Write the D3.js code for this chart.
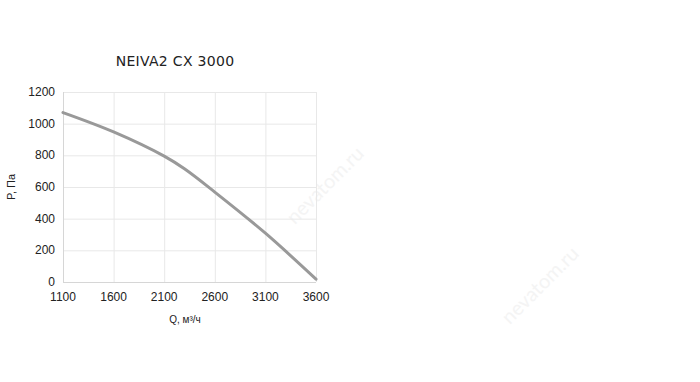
<!DOCTYPE html>
<html>
<head>
<meta charset="utf-8">
<script src="https://cdn.jsdelivr.net/npm/d3@7"></script>
<style>
    body { margin: 0; background: #ffffff; }
    svg { display: block; }
</style>
</head>
<body>
<div id="chart"></div>
<script>
let width = 700;
let height = 382;

// data
let title = "NEIVA2 CX 3000";
let flow = [1100, 1600, 2100, 2300, 2600, 3100, 3600];
let pressure = [1070, 948, 795, 715, 568, 308, 18];
let xTicks = [1100, 1600, 2100, 2600, 3100, 3600];
let yTicks = [0, 200, 400, 600, 800, 1000, 1200];
let xLabel = "Q, м³/ч";
let yLabel = "P, Па";

let margin = { left: 63, right: 384, top: 92, bottom: 100 };

let svg = d3.select("#chart")
    .append("svg")
    .attr("width", width)
    .attr("height", height);

// faint watermarks
let marks = [
    { x: 330, y: 190 },
    { x: 545, y: 290 }
];
marks.forEach(function (m) {
    svg.append("text")
        .attr("transform", "translate(" + m.x + "," + m.y + ") rotate(-45)")
        .attr("text-anchor", "middle")
        .attr("font-family", "Lato, sans-serif")
        .attr("font-size", 20)
        .attr("fill", "#f4f4f4")
        .text("nevatom.ru");
});

let x = d3.scaleLinear()
    .domain([1100, 3600])
    .range([margin.left, width - margin.right]);

let y = d3.scaleLinear()
    .domain([0, 1200])
    .range([height - margin.bottom, margin.top]);

// grid
svg.append("g")
    .selectAll("line")
    .data(yTicks)
    .enter()
    .append("line")
    .attr("x1", x(1100))
    .attr("x2", x(3600))
    .attr("y1", d => y(d) + 0.5)
    .attr("y2", d => y(d) + 0.5)
    .attr("stroke", "#e8e8e8");

svg.append("g")
    .selectAll("line")
    .data(xTicks)
    .enter()
    .append("line")
    .attr("x1", d => x(d) + 0.5)
    .attr("x2", d => x(d) + 0.5)
    .attr("y1", y(0))
    .attr("y2", y(1200))
    .attr("stroke", "#e8e8e8");

// axis lines
svg.append("line")
    .attr("x1", x(1100) + 0.5).attr("x2", x(1100) + 0.5)
    .attr("y1", y(0)).attr("y2", y(1200))
    .attr("stroke", "#d6d6d6");
svg.append("line")
    .attr("x1", x(1100)).attr("x2", x(3600))
    .attr("y1", y(0) + 0.5).attr("y2", y(0) + 0.5)
    .attr("stroke", "#d6d6d6");

// tick labels
svg.append("g")
    .selectAll("text")
    .data(yTicks)
    .enter()
    .append("text")
    .attr("x", x(1100) - 8)
    .attr("y", d => y(d) + 4)
    .attr("text-anchor", "end")
    .attr("font-family", "'Liberation Sans', Arial, sans-serif")
    .attr("font-size", 12)
    .attr("fill", "#222")
    .text(d => d);

svg.append("g")
    .selectAll("text")
    .data(xTicks)
    .enter()
    .append("text")
    .attr("x", d => x(d))
    .attr("y", y(0) + 19)
    .attr("text-anchor", "middle")
    .attr("font-family", "'Liberation Sans', Arial, sans-serif")
    .attr("font-size", 12)
    .attr("fill", "#222")
    .text(d => d);

// curve
let line = d3.line()
    .x(d => x(d[0]))
    .y(d => y(d[1]))
    .curve(d3.curveCatmullRom);

svg.append("path")
    .datum(d3.zip(flow, pressure))
    .attr("d", line)
    .attr("fill", "none")
    .attr("stroke", "#999999")
    .attr("stroke-width", 3)
    .attr("stroke-linecap", "round");

// title and axis titles
svg.append("text")
    .attr("x", 175)
    .attr("y", 66)
    .attr("text-anchor", "middle")
    .attr("font-family", "'DejaVu Sans', sans-serif")
    .attr("font-size", 14)
    .attr("letter-spacing", 0.3)
    .attr("fill", "#222")
    .text(title);

svg.append("text")
    .attr("transform", "translate(15," + y(600) + ") rotate(-90)")
    .attr("text-anchor", "middle")
    .attr("font-family", "'Liberation Sans', Arial, sans-serif")
    .attr("font-size", 11)
    .attr("fill", "#222")
    .text(yLabel);

svg.append("text")
    .attr("x", 185)
    .attr("y", 323)
    .attr("text-anchor", "middle")
    .attr("font-family", "'Liberation Sans', Arial, sans-serif")
    .attr("font-size", 10)
    .attr("fill", "#222")
    .text(xLabel);
</script>
</body>
</html>
